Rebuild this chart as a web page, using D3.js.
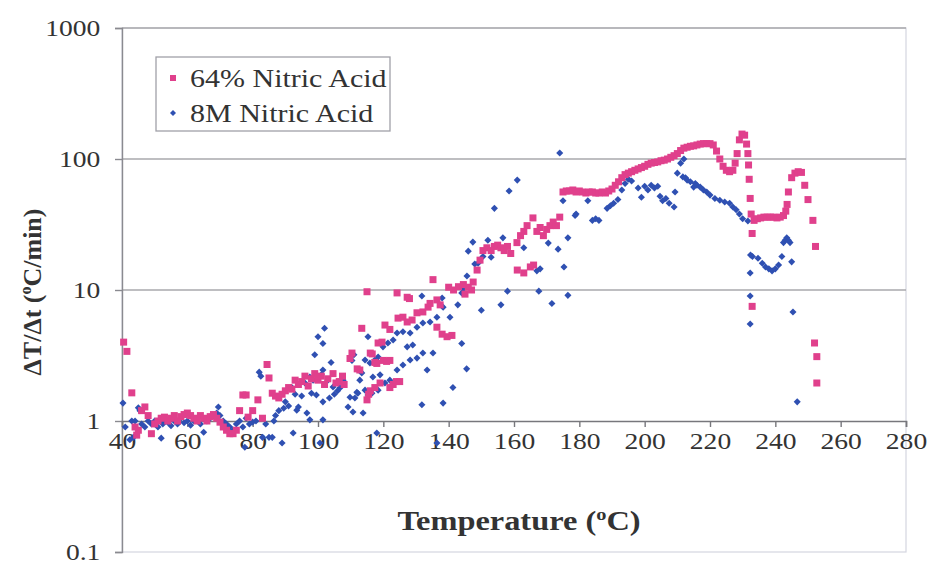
<!DOCTYPE html>
<html><head><meta charset="utf-8">
<script src="https://cdn.jsdelivr.net/npm/d3@7"></script>
<style>body{margin:0;background:#fff}svg{display:block}</style>
</head><body>
<svg id="c" width="933" height="565"></svg>
<script>
const xTicks=[40,60,80,100,120,140,160,180,200,220,240,260,280];
const yTicks=[0.1,1,10,100,1000];
const yTickLabels=["0.1","1","10","100","1000"];
const seriesNames=["64% Nitric Acid","8M Nitric Acid"];
const nitric64T=[40.5,41.5,43,44,44.5,45,46,47,48,49,50,51,52,53,54,55,56,57,58,59,60,61,62,63,64,65,66,67,68,69,70,71,72,73,74,75,76,77,78,78.6,80,81.6,83,84.4,85,86,87,
88,89,90,91,92,93,94,95,96,97,98,99,100,101,102,103,104.6,105.5,106.5,107.5,108,109.8,110.4,112,112.8,113.4,115,115,115.5,116,116,116.6,117.4,117.4,118,118.4,119,119.6,120,120.5,121,122,122,122,123,124,124.2,124.5,125,126,127.3,127.3,128,128.8,130.3,132.1,133.7,134.3,135.2,136.4,136.4,137.4,138,139.5,141,140,141.5,143,144.5,146,147,145,147.5,
148.7,149.6,150.5,151.7,153,154,155,156,157,158,159,160.9,162,163,164,165.8,166,165,163,161,167,168,169,170,171,172,173,174,175,176,177,178,179,180,181,182,183,184,185,186,187,188,189,190,191,192,193,194,195,196,197,198,199,200,201,202,203,204,205,206,207,208,209,210,211,212,213,214,215,216,217,218,219,220,221,222,223,224,225,226,227,227.7,228.3,229,229.8,230.6,231.2,231.6,231.8,232,232.3,232.6,232.9,232.9,233.5,234.5,235.5,236.5,237.5,238.5,239.5,240.5,241.5,242.5,243.2,243.6,244,245,246,247,248,249,250,251.5,252.3,252,252.7,252.7];
const nitric64V=[4.0,3.4,1.64,0.9,0.78,0.85,1.2,1.28,1.1,0.8,0.95,1.0,1.05,1.07,1.0,1.05,1.1,1.0,1.08,1.12,1.15,1.1,1.05,1.0,1.1,1.05,1.0,1.08,1.12,1.05,0.98,0.9,0.85,0.8,0.8,0.85,1.2,1.58,1.58,1.07,1.2,1.45,1.05,2.7,2.13,1.63,1.55,
1.5,1.6,1.7,1.8,1.75,2.05,1.9,2.0,2.2,1.85,2.1,2.3,2.05,2.2,1.9,2.1,2.3,1.95,2.0,2.2,1.9,3.0,3.3,2.5,2.45,5.1,9.7,1.45,1.6,1.7,3.3,3.25,2.8,1.8,2.75,3.94,1.95,4.0,2.9,5.4,2.85,5.0,2.9,1.8,1.9,2.0,9.5,6.1,2.0,6.2,5.7,8.8,8.6,5.9,6.7,6.8,7.4,7.9,12,8.4,5.2,7.7,4.6,4.4,4.5,10.5,10,10.6,11,10.5,10,9.3,11.5,
14.2,16.9,20,21,20,21.5,22,21,20,21.5,19,23,26,28,31,35.5,15.5,15,13.5,14.2,28,30,26,29,31,33,31,36,56,57,57,58,56,57,56,55,56,56,55,55,56,55,57,59,63,67,72,76,78,80,82,84,86,88,91,93,94,95,97,98,100,103,106,110,116,121,123,125,126,128,130,131,131,131,128,115,100,88,82,80,82,93,110,140,155,152,130,110,90,70,50,38,27,7.5,34,35,35.5,36,36,36,36,35.5,36,37,40,45,56,72,78,80,79,63,49,34,21.5,3.94,3.1,1.95];
const nitric8T=[40.3,41,42.4,43,43.5,44,45,45.5,46,47,48,49,50,51,52,52.5,53,54,55,56,57,58,59,60,61,62,63,64,65,66,67,68,69,69.5,70,71,72,73,74,75,76,77,77.6,78,79,80,81,82,82.5,83,84,85,86,86.5,87,
88,89,89.5,90,91,92,92.4,93,93.5,94,95,96,96.6,97.5,97.5,98,98.5,99,99.5,100,100.6,101,101.5,101.5,101.5,101.5,102,103,103.5,104,104.6,105,106,106.7,107.7,109.2,109.8,110.4,110.7,111,111.3,111.9,112.2,112.8,113.4,113.8,114.4,114.4,115.3,115.3,115.9,116.5,116.8,117.4,118,118.4,118.4,119,119.9,120.5,121.4,122,123,124.2,124.2,126,126,127.3,128.2,128.2,129,130.3,130.3,131.8,131.8,132.1,132.1,133.4,134.3,135.2,136.4,136.4,138,138.3,138.3,140.4,141.3,142.8,144,144,144.5,145.5,145.6,146,147.4,148,149,150,
150.5,152,153,154,156,156.6,158,158.5,161,163,167,167.6,168,170.5,171.6,173.5,174,175,175.3,176.5,176.5,178.7,179,182.6,184,185,186,188.5,189.5,190.5,191.8,193,194,195,196,198,199,200,201,202,203,204,204.7,205.5,206.5,207.5,209,209.3,210,211,212,211.7,212.5,213,214,215,215.5,216,217,218,219,220,221.5,223,224.5,226,227,228,229,230,231.6,232.4,233,232.3,232.3,232.3,234.7,236,237,238,239,240,241,242,242.5,243,243.5,244,244.5,245,245.4,246.7];
const nitric8V=[1.37,0.9,0.72,1.0,0.75,1.0,1.26,1.2,0.95,0.9,1.0,0.95,1.0,0.9,0.74,0.95,1.0,0.98,0.92,1.0,0.95,1.05,0.97,1.0,0.93,1.0,1.02,0.95,0.82,1.0,1.05,1.1,1.15,1.28,1.1,1.0,0.95,0.9,0.85,0.95,1.0,0.9,0.63,1.05,0.95,0.98,1.0,2.36,2.2,0.75,0.95,0.75,0.75,1.0,1.1,
1.2,0.68,1.25,1.4,1.3,1.8,0.81,1.6,1.21,1.28,1.55,1.95,1.15,2.17,1.02,1.63,2.05,3.2,1.58,4.4,0.68,2.25,3.9,2.45,1.02,1.4,5.1,2.05,1.5,2.8,1.82,1.6,1.7,1.79,2.05,1.28,1.52,2.9,1.17,3.2,1.5,1.66,1.63,2.05,2.33,1.15,1.72,2.92,4.4,1.58,2.77,1.63,2.17,2.92,0.81,3.08,1.72,2.25,3.68,1.95,3.94,2.05,4.15,4.7,2.45,4.8,2.68,3.68,4.7,2.92,3.8,5.2,3.02,9,1.33,5.6,3.3,2.45,5.7,3.3,6.2,0.68,8.7,7.4,1.37,6.2,1.8,7.7,9.5,3.9,10.2,2.5,12.8,19.8,23.2,15.8,16,7.0,
18,24,17.8,42,7.7,25,9.8,57,69,21,14,9.8,14.5,22.8,7.9,20.5,111,48,15,25,9.1,37,38,48,34,35,34,42,44,46,49,58,65,70,68,60,51,62,58,63,60,62,52,48,50,46,43,56,78,93,100,73,72,69,67,61,65,63,61,58,56,53,50,48.5,47,46,43,41,38,35,33.6,18.5,18,13.5,9,5.5,17.5,16,15,14.5,14,14.5,15.5,18,23,24,25,24,23,16.4,6.8,1.4];

const pink="#e0408c", blue="#2f50b2";
const svg=d3.select("#c");
const x=d3.scaleLinear().domain([40,280]).range([122,906]);
const y=d3.scaleLog().domain([0.1,1000]).range([552,28]);
const SX=1.2;
const serif="'Liberation Serif','Times New Roman',serif";

svg.append("rect").attr("x",x(40)).attr("y",y(1000)).attr("width",x(280)-x(40)).attr("height",y(0.1)-y(1000))
  .attr("fill","none").attr("stroke","#d4d6e0").attr("stroke-width",1.2);
svg.append("g").selectAll("line").data([10,100,1000]).join("line")
  .attr("x1",x(40)).attr("x2",x(280)).attr("y1",d=>y(d)).attr("y2",d=>y(d))
  .attr("stroke","#a8a8ad").attr("stroke-width",1.6);

const ya=svg.append("g").attr("transform",`translate(${x(40)},0)`)
  .call(d3.axisLeft(y).tickValues(yTicks).tickFormat((d,i)=>yTickLabels[i]).tickSize(7).tickPadding(11));
ya.select(".domain").attr("stroke","#8a8a90").attr("stroke-width",1.4);
ya.selectAll(".tick line").attr("stroke","#8a8a90").attr("stroke-width",1.4);
ya.selectAll(".tick text").attr("font-family",serif).attr("font-size",23).attr("fill","#333")
  .attr("transform",`scale(${SX},1)`);

const xa=svg.append("g").attr("transform",`translate(0,${y(1)})`)
  .call(d3.axisBottom(x).tickValues(xTicks).tickFormat(d3.format("d")).tickSize(6).tickPadding(6));
xa.select(".domain").attr("stroke","#77777c").attr("stroke-width",1.6);
xa.selectAll(".tick line").attr("stroke","#77777c").attr("stroke-width",1.4);
xa.selectAll(".tick text").attr("font-family",serif).attr("font-size",23).attr("fill","#333")
  .attr("transform",`scale(${SX},1)`);

const d64=nitric64T.map((t,i)=>({t,v:nitric64V[i]}));
const d8=nitric8T.map((t,i)=>({t,v:nitric8V[i]}));
const dia=d3.symbol(d3.symbolSquare,25);
svg.append("g").selectAll("path").data(d8).join("path")
  .attr("d",dia)
  .attr("transform",d=>`translate(${x(d.t)},${y(d.v)}) rotate(45)`).attr("fill",blue);
svg.append("g").selectAll("rect").data(d64).join("rect")
  .attr("x",d=>x(d.t)-3.5).attr("y",d=>y(d.v)-3.5).attr("width",7).attr("height",7).attr("fill",pink);

const lg=svg.append("g");
lg.append("rect").attr("x",156).attr("y",57).attr("width",234).attr("height",74)
  .attr("fill","#fff").attr("stroke","#a0a0a8").attr("stroke-width",1.3);
lg.append("rect").attr("x",170).attr("y",75).attr("width",6).attr("height",6).attr("fill",pink);
lg.append("path").attr("d",d3.symbol(d3.symbolSquare,18)).attr("transform","translate(173,113) rotate(45)").attr("fill",blue);
lg.selectAll("text.l").data(seriesNames).join("text").attr("class","l")
  .attr("x",190/SX).attr("y",(d,i)=>87+i*35).attr("transform",`scale(${SX},1)`)
  .attr("font-family",serif).attr("font-size",25).attr("fill","#333").text(d=>d);

const xt=svg.append("text").attr("x",519/SX).attr("y",530).attr("text-anchor","middle")
  .attr("transform",`scale(${SX},1)`).attr("font-family",serif).attr("font-size",27).attr("font-weight","bold").attr("fill","#333");
xt.append("tspan").text("Temperature (");
xt.append("tspan").attr("dy",-10).attr("font-size",17).text("o");
xt.append("tspan").attr("dy",10).text("C)");

const yt=svg.append("text").attr("transform","translate(41,292) rotate(-90)").attr("text-anchor","middle")
  .attr("font-family",serif).attr("font-size",26).attr("font-weight","bold").attr("fill","#333");
yt.append("tspan").text("ΔT/Δt (");
yt.append("tspan").attr("dy",-10).attr("font-size",16).text("o");
yt.append("tspan").attr("dy",10).text("C/min)");
</script>
</body></html>
